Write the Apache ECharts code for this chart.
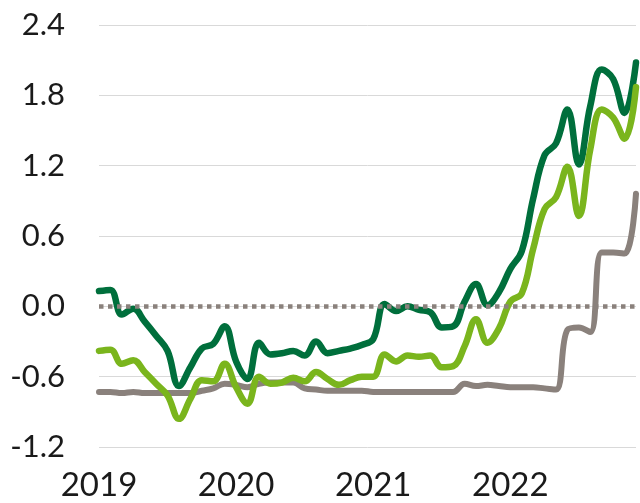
<!DOCTYPE html>
<html>
<head>
<meta charset="utf-8">
<script src="https://cdn.jsdelivr.net/npm/echarts@6/dist/echarts.min.js"></script>
<style>
html,body{margin:0;padding:0;background:#fff;}
#chart{width:640px;height:503px;}
</style>
</head>
<body>
<div id="chart"></div>
<script>
// Monthly, Jan 2019 .. Dec 2022
const years = [2019, 2020, 2021, 2022];
const months = [];
years.forEach(y => { for (let m = 1; m <= 12; m++) months.push(y + '-' + (m < 10 ? '0' + m : m)); });

const darkGreen = [
  0.13, 0.14, -0.07, -0.02, -0.13, -0.25, -0.38, -0.68, -0.52, -0.36, -0.32, -0.17,
  -0.47, -0.62, -0.31, -0.41, -0.40, -0.38, -0.42, -0.30, -0.40, -0.38, -0.36, -0.33,
  -0.28, 0.02, -0.04, 0.00, -0.03, -0.05, -0.18, -0.17, 0.04, 0.19, 0.01, 0.12,
  0.32, 0.47, 0.92, 1.29, 1.39, 1.68, 1.21, 1.71, 2.02, 1.94, 1.65, 2.08
];
const lightGreen = [
  -0.38, -0.37, -0.49, -0.46, -0.56, -0.66, -0.76, -0.96, -0.79, -0.63, -0.64, -0.49,
  -0.69, -0.83, -0.60, -0.66, -0.65, -0.61, -0.64, -0.56, -0.62, -0.67, -0.63, -0.60,
  -0.60, -0.41, -0.47, -0.42, -0.43, -0.42, -0.52, -0.51, -0.34, -0.11, -0.31, -0.19,
  0.04, 0.11, 0.49, 0.83, 0.93, 1.19, 0.77, 1.34, 1.68, 1.61, 1.43, 1.87
];
const grey = [
  -0.73, -0.73, -0.74, -0.73, -0.74, -0.74, -0.74, -0.74, -0.74, -0.72, -0.70, -0.66,
  -0.67, -0.69, -0.66, -0.65, -0.65, -0.65, -0.70, -0.71, -0.72, -0.72, -0.72, -0.72,
  -0.73, -0.73, -0.73, -0.73, -0.73, -0.73, -0.73, -0.73, -0.66, -0.68, -0.67, -0.68,
  -0.69, -0.69, -0.69, -0.70, -0.71, -0.20, -0.18, -0.22, 0.46, 0.46, 0.45, 0.96
];
const yTicks = [-1.2, -0.6, 0.0, 0.6, 1.2, 1.8, 2.4];

const chart = echarts.init(document.getElementById('chart'), null, {renderer: 'canvas'});
const font = 'Lato';
chart.setOption({
  animation: false,
  backgroundColor: '#ffffff',
  grid: {left: 99, right: 4, top: 25, bottom: 56, containLabel: false},
  xAxis: {
    type: 'category',
    data: months,
    boundaryGap: false,
    axisLine: {show: false},
    axisTick: {show: false},
    splitLine: {show: false},
    axisLabel: {
      interval: 0,
      margin: 22,
      fontFamily: font,
      fontSize: 33,
      color: '#1a1a1a',
      formatter: function (v) { return v.slice(5) === '01' ? v.slice(0, 4) : ''; }
    }
  },
  yAxis: {
    type: 'value',
    min: yTicks[0],
    max: yTicks[yTicks.length - 1],
    interval: 0.6,
    axisLine: {show: false},
    axisTick: {show: false},
    splitLine: {show: true, lineStyle: {color: '#d9d9d9', width: 1}},
    axisLabel: {
      margin: 34,
      fontFamily: font,
      fontSize: 31,
      color: '#1a1a1a',
      formatter: function (v) { return v.toFixed(1); }
    }
  },
  series: [
    {
      type: 'line', data: [], z: 1, silent: true,
      markLine: {
        silent: true, symbol: ['none', 'none'], label: {show: false},
        lineStyle: {color: '#8a817c', width: 4.5, type: [4.5, 4.5], cap: 'butt'},
        data: [{yAxis: 0}]
      }
    },
    {
      name: 'grey', type: 'line', data: grey, z: 2,
      smooth: 0.4, showSymbol: false, symbol: 'none',
      lineStyle: {color: '#8a817c', width: 6, cap: 'round', join: 'round'}
    },
    {
      name: 'dark', type: 'line', data: darkGreen, z: 3,
      smooth: 0.4, showSymbol: false, symbol: 'none',
      lineStyle: {color: '#006f3c', width: 6.5, cap: 'round', join: 'round'}
    },
    {
      name: 'light', type: 'line', data: lightGreen, z: 4,
      smooth: 0.4, showSymbol: false, symbol: 'none',
      lineStyle: {color: '#7ab51d', width: 6.5, cap: 'round', join: 'round'}
    }
  ]
});
</script>
</body>
</html>
